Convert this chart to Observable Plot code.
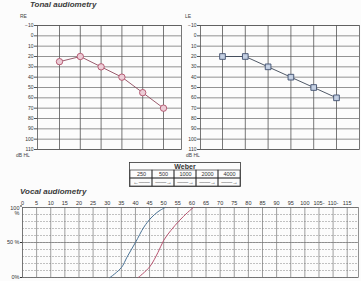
<!DOCTYPE html>
<html><head><meta charset="utf-8">
<script src="https://cdn.jsdelivr.net/npm/d3@7"></script>
<script src="https://cdn.jsdelivr.net/npm/@observablehq/plot@0.6"></script>
<style>
body{margin:0;background:#fff;}
#root{position:relative;width:361px;height:281px;overflow:hidden;font-family:"Liberation Sans",Arial,sans-serif;background:#fcfcfc;}
.abs{position:absolute;line-height:1;white-space:nowrap;}
.title{font-weight:bold;font-style:italic;font-size:8px;color:#3a3a3a;}
.small{font-size:5px;color:#444;}
svg{overflow:visible;}
</style></head><body><div id="root"></div>
<script>
// ---- data ----
const freqs = [250, 500, 1000, 2000, 4000, 8000];
const freqLabels = ["250", "500", "1000", "2000", "4000", "8000"];
const rightEarDb = [25, 20, 30, 40, 55, 70];
const leftEarDb = [20, 20, 30, 40, 50, 60];
const dbTicks = [-10, 0, 10, 20, 30, 40, 50, 60, 70, 80, 90, 100, 110];
const weberFreqs = ["250", "500", "1000", "2000", "4000"];
const weberArrows = ["←——", "——→", "——→", "——→", "——→"];
const vocalTicks = [0,5,10,15,20,25,30,35,40,45,50,55,60,65,70,75,80,85,90,95,100,105,110,115];
const pctTicksLow = [0, 50];
const pctLabelsLow = ["0%", "50 %"];
const pctTickTop = [100];
const pctLabelTop = "100\n%";
const pctGrid = [0,10,20,30,40,50,60,70,80,90,100];
const speechBlueDb = [31, 35, 37, 40, 43, 45.5, 48, 50.5];
const speechBluePct = [0, 14, 29, 50, 72, 85, 94, 100];
const speechRedDb = [41, 45, 48, 50, 52.5, 55.5, 58.5, 60.5];
const speechRedPct = [0, 15, 36, 53, 67, 81, 93, 100];

const root = document.getElementById("root");
function place(el, left, top) {
  el.style.position = "absolute"; el.style.left = left + "px"; el.style.top = top + "px";
  root.appendChild(el);
}
function label(txt, cls, left, top) {
  const d = document.createElement("div"); d.className = "abs " + cls; d.textContent = txt;
  d.style.left = left + "px"; d.style.top = top + "px"; root.appendChild(d);
}
const baseStyle = {background: "transparent", fontFamily: "Liberation Sans, Arial, sans-serif", color: "#333"};

function audiogram(o) {
  const right = o.width - o.mr;
  const lo = 250 / Math.pow(2, o.off / o.oct);
  const x8000 = o.ml + o.off + 5 * o.oct;
  const hi = 8000 * Math.pow(2, (right - x8000) / o.oct);
  const rows = freqs.map((f, i) => ({f, db: o.values[i]}));
  return Plot.plot({
    width: o.width, height: 160,
    marginLeft: o.ml, marginRight: o.mr, marginTop: 25, marginBottom: 11,
    style: baseStyle,
    x: {type: "log", domain: [lo, hi], label: null},
    y: {domain: [-10, 110], reverse: true, label: null},
    marks: [
      Plot.ruleY(dbTicks, {stroke: "#666", strokeWidth: 0.7}),
      Plot.ruleX(freqs, {stroke: "#555", strokeWidth: 0.8}),
      Plot.frame({stroke: "#555", strokeWidth: 0.8}),
      Plot.axisY(dbTicks, {label: null, tickSize: 3, tickPadding: 1, fontSize: 5, stroke: "#555"}),
      Plot.axisX(freqs, {label: null, anchor: "top", tickSize: 0, tickPadding: 4, fontSize: 5, tickFormat: (d, i) => freqLabels[i]}),
      Plot.line(rows, {x: "f", y: "db", stroke: o.line, strokeWidth: 0.9}),
      Plot.dot(rows, {x: "f", y: "db", r: 3.2, symbol: o.symbol, stroke: o.stroke, fill: o.fill, strokeWidth: 0.9})
    ]
  });
}

label("Tonal audiometry", "title", 30, 1);
label("RE", "small", 20, 14);
label("LE", "small", 185, 14);
label("dB HL", "small", 16, 153);
label("dB HL", "small", 186, 153);

place(audiogram({width: 185, ml: 37, mr: 4, off: 22, oct: 20.8, values: rightEarDb,
  symbol: "circle", stroke: "#b0506a", fill: "#ecccd6", line: "#8e4a5c"}), 0, 0);
place(audiogram({width: 181, ml: 20, mr: 2, off: 22, oct: 22.8, values: leftEarDb,
  symbol: "square", stroke: "#3f4f6e", fill: "#c3cfe2", line: "#3c4656"}), 180, 0);

// Weber table
const weberRows = [];
weberFreqs.forEach((f, i) => {
  weberRows.push({col: f, row: "freq", t: f});
  weberRows.push({col: f, row: "arrow", t: weberArrows[i]});
});
place(Plot.plot({
  width: 112, height: 25, margin: 0, marginRight: 1, marginBottom: 1,
  style: {...baseStyle, color: "#222"},
  x: {type: "band", domain: weberFreqs, padding: 0, axis: null},
  y: {type: "band", domain: ["head", "freq", "arrow"], padding: 0, axis: null},
  marks: [
    Plot.cell(weberRows, {x: "col", y: "row", fill: "none", stroke: "#333", strokeWidth: 0.7}),
    Plot.frame({stroke: "#333", strokeWidth: 0.8}),
    Plot.text(["Weber"], {frameAnchor: "top", lineAnchor: "middle", dy: 4.3, fontSize: 7, fontWeight: "bold", fill: "#333"}),
    Plot.text(weberRows, {x: "col", y: "row", text: "t", fontSize: 5.5, fill: "#333"})
  ]
}), 129, 162);

// Vocal audiometry
label("Vocal audiometry", "title", 20, 188);
const blue = speechBlueDb.map((d, i) => ({db: d, p: speechBluePct[i]}));
const red = speechRedDb.map((d, i) => ({db: d, p: speechRedPct[i]}));
place(Plot.plot({
  width: 361, height: 85,
  marginLeft: 22, marginRight: 3, marginTop: 11, marginBottom: 4,
  style: baseStyle,
  x: {domain: [0, 119], label: null},
  y: {domain: [0, 100], label: null},
  marks: [
    Plot.ruleY(pctGrid, {stroke: "#999", strokeWidth: 0.6, strokeDasharray: "2,1"}),
    Plot.ruleY([0, 50, 100], {stroke: "#777", strokeWidth: 0.7}),
    Plot.ruleX(vocalTicks, {stroke: "#777", strokeWidth: 0.7}),
    Plot.frame({stroke: "#666", strokeWidth: 0.7}),
    Plot.axisX(vocalTicks, {label: null, anchor: "top", tickSize: 0, tickPadding: 3, fontSize: 5.5,
      tickFormat: d => (d === 105 || d === 110) ? d + "-" : String(d)}),
    Plot.axisY(pctTicksLow, {label: null, tickSize: 2, tickPadding: 1, fontSize: 5.5,
      tickFormat: d => pctLabelsLow[pctTicksLow.indexOf(d)]}),
    Plot.axisY(pctTickTop, {label: null, tickSize: 2, tickPadding: 1, fontSize: 5.5, lineAnchor: "top", dy: -1.5,
      tickFormat: () => pctLabelTop}),
    Plot.line(blue, {x: "db", y: "p", stroke: "#4a7396", strokeWidth: 1, curve: "catmull-rom"}),
    Plot.line(red, {x: "db", y: "p", stroke: "#b85470", strokeWidth: 1, curve: "catmull-rom"})
  ]
}), 0, 196);
</script></body></html>
